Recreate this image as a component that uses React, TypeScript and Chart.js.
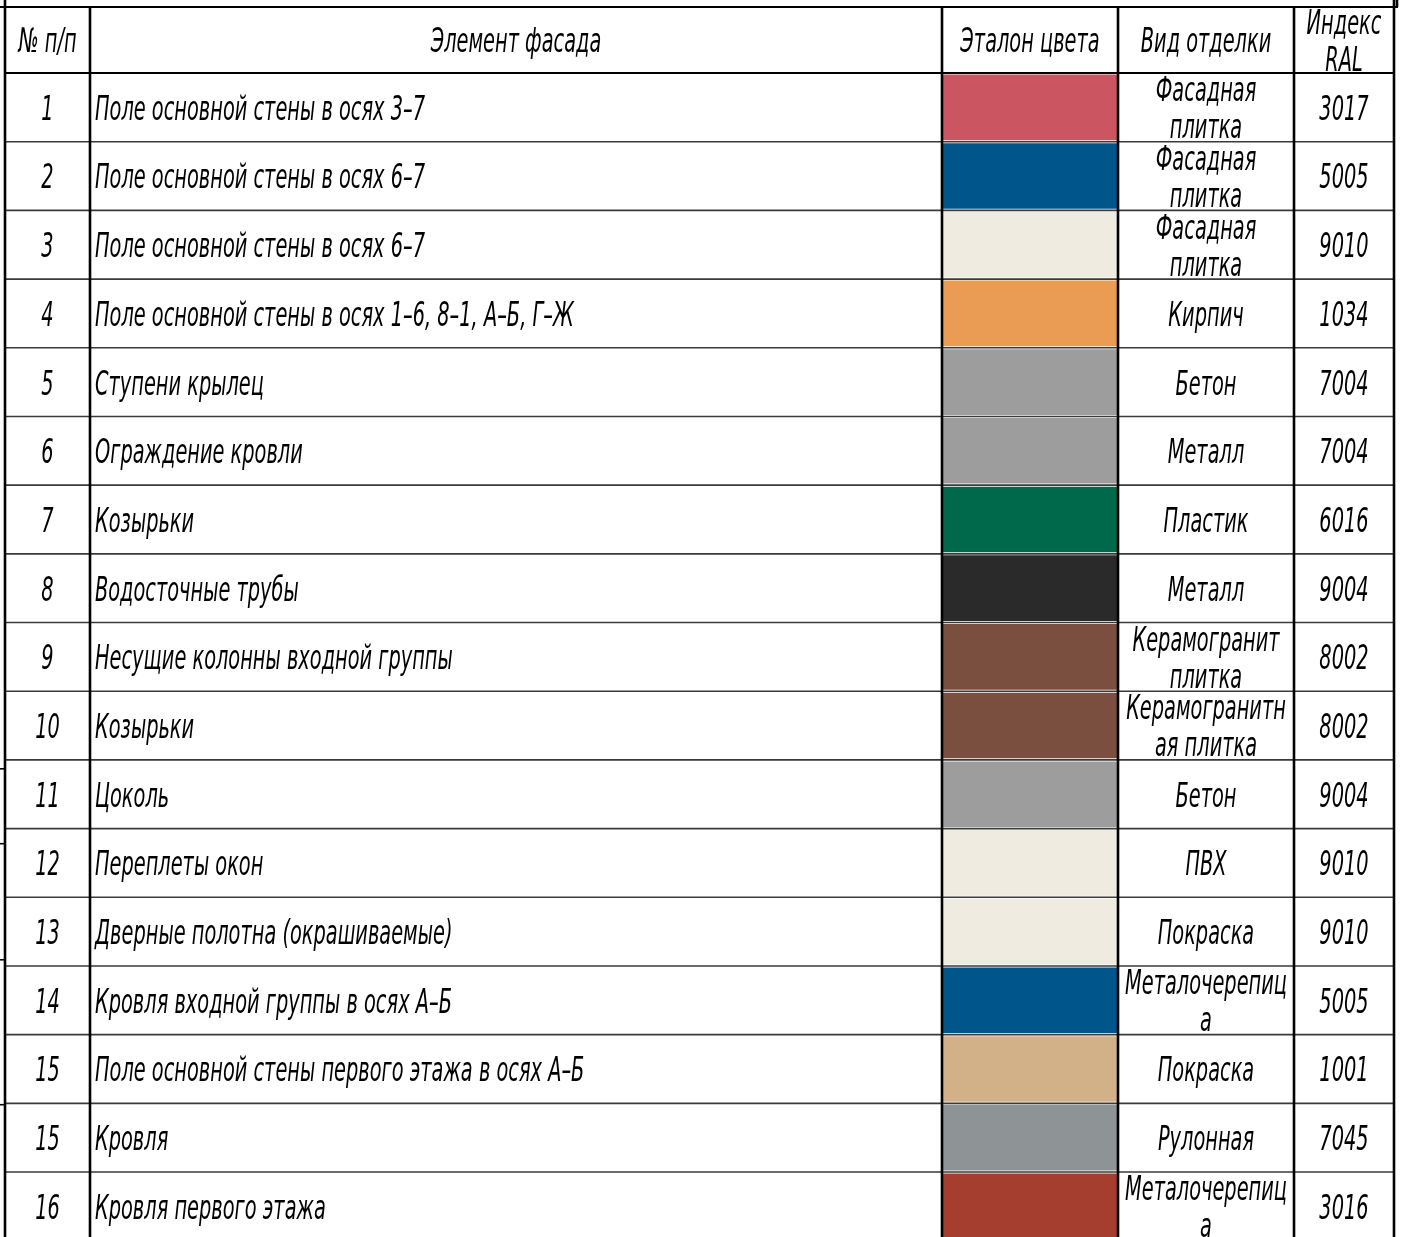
import React, { useEffect, useRef } from "react";
import { Chart, registerables } from "chart.js";

Chart.register(...registerables);

// ---- data ----
const headers = ["№ п/п", "Элемент фасада", "Эталон цвета", "Вид отделки", "Индекс\nRAL"];
const rowNumbers = ["1", "2", "3", "4", "5", "6", "7", "8", "9", "10", "11", "12", "13", "14", "15", "15", "16"];
const elements = [
  "Поле основной стены в осях 3–7",
  "Поле основной стены в осях 6–7",
  "Поле основной стены в осях 6–7",
  "Поле основной стены в осях 1–6, 8–1, А–Б, Г–Ж",
  "Ступени крылец",
  "Ограждение кровли",
  "Козырьки",
  "Водосточные трубы",
  "Несущие колонны входной группы",
  "Козырьки",
  "Цоколь",
  "Переплеты окон",
  "Дверные полотна (окрашиваемые)",
  "Кровля входной группы в осях А–Б",
  "Поле основной стены первого этажа в осях А–Б",
  "Кровля",
  "Кровля первого этажа",
];
const swatchColors = [
  "#CB5560", "#00568A", "#EFEBE1", "#EA9C55", "#9D9D9D", "#9D9D9D", "#00694B", "#2A2A2A",
  "#7A4F3F", "#7A4F3F", "#9D9D9D", "#EFEBE1", "#EFEBE1", "#00568A", "#D2B088", "#8E9396", "#A63E30",
];
const finishes = [
  "Фасадная\nплитка", "Фасадная\nплитка", "Фасадная\nплитка", "Кирпич", "Бетон", "Металл", "Пластик", "Металл",
  "Керамогранит\nплитка", "Керамогранитн\nая плитка", "Бетон", "ПВХ", "Покраска", "Металочерепиц\nа", "Покраска",
  "Рулонная", "Металочерепиц\nа",
];
const ralCodes = ["3017", "5005", "9010", "1034", "7004", "7004", "6016", "9004", "8002", "8002", "9004", "9010", "9010", "5005", "1001", "7045", "3016"];

// ---- layout (scale units) ----
const W = 1401;
const H = 1237;
const COL_EDGES = [5, 90, 942, 1118, 1294, 1394];
const Y_MIN = -1.063;
const Y_MAX = 16.946;
const HEADER_TOP = -0.961;
const FRAME_TICKS = [10.13, 11.22, 12.91, 15.02];
const FONT_PX = 34;
const LINE_GAP = 37;

function drawText(ctx: CanvasRenderingContext2D, text: string, x: number, cy: number, align: CanvasTextAlign, sx: number) {
  const lines = text.split("\n");
  lines.forEach((ln, k) => {
    const y = cy + (k - (lines.length - 1) / 2) * LINE_GAP + FONT_PX * 0.365;
    ctx.save();
    ctx.translate(x, y);
    ctx.scale(sx, 1);
    ctx.textAlign = align;
    ctx.textBaseline = "alphabetic";
    ctx.fillText(ln, 0, 0);
    ctx.restore();
  });
}

const tablePlugin = {
  id: "tablePlugin",
  beforeDraw(chart: any) {
    const ctx = chart.ctx as CanvasRenderingContext2D;
    ctx.save();
    ctx.fillStyle = "#ffffff";
    ctx.fillRect(0, 0, chart.width, chart.height);
    ctx.restore();
  },
  afterDatasetsDraw(chart: any) {
    const ctx = chart.ctx as CanvasRenderingContext2D;
    const xs = chart.scales.x;
    const ys = chart.scales.y;
    const px = (v: number) => xs.getPixelForValue(v);
    const py = (v: number) => ys.getPixelForValue(v);
    ctx.save();
    ctx.font = `italic ${FONT_PX}px "DejaVu Sans"`;
    const sx = 330 / ctx.measureText(elements[0]).width;

    // horizontal row lines
    ctx.strokeStyle = "#3a3a3a";
    ctx.lineWidth = 1.6;
    for (let i = 1; i <= elements.length; i++) {
      ctx.beginPath();
      ctx.moveTo(px(COL_EDGES[0]), py(i));
      ctx.lineTo(px(COL_EDGES[5]), py(i));
      ctx.stroke();
    }
    ctx.strokeStyle = "#000";
    ctx.lineWidth = 2.2;
    ctx.beginPath();
    ctx.moveTo(px(COL_EDGES[0]), py(0));
    ctx.lineTo(px(COL_EDGES[5]), py(0));
    ctx.stroke();
    ctx.beginPath();
    ctx.moveTo(px(0), py(HEADER_TOP));
    ctx.lineTo(px(1398), py(HEADER_TOP));
    ctx.stroke();

    // verticals
    ctx.lineWidth = 2.6;
    COL_EDGES.forEach((c, i) => {
      ctx.beginPath();
      ctx.moveTo(px(c), py(i === 0 || i === 5 ? Y_MIN : HEADER_TOP));
      ctx.lineTo(px(c), py(Y_MAX));
      ctx.stroke();
    });
    ctx.beginPath();
    ctx.moveTo(px(1397), py(Y_MIN));
    ctx.lineTo(px(1397), py(HEADER_TOP));
    ctx.stroke();

    // frame ticks at left edge
    ctx.lineWidth = 1.6;
    FRAME_TICKS.forEach((t) => {
      ctx.beginPath();
      ctx.moveTo(px(0), py(t));
      ctx.lineTo(px(COL_EDGES[0]), py(t));
      ctx.stroke();
    });

    // text
    ctx.fillStyle = "#000";
    const centers = [0, 1, 2, 3, 4].map((i) => (px(COL_EDGES[i]) + px(COL_EDGES[i + 1])) / 2);
    const hy = (py(HEADER_TOP) + py(0)) / 2;
    headers.forEach((h, i) => drawText(ctx, h, centers[i], hy, "center", sx));

    elements.forEach((el, i) => {
      const cy = py(i + 0.5);
      drawText(ctx, rowNumbers[i], centers[0], cy, "center", sx);
      drawText(ctx, el, px(COL_EDGES[1]) + 5, cy, "left", sx);
      drawText(ctx, finishes[i], centers[3], cy, "center", sx);
      drawText(ctx, ralCodes[i], centers[4], cy, "center", sx);
    });
    ctx.restore();
  },
};

export default function App() {
  const ref = useRef<HTMLCanvasElement>(null);
  useEffect(() => {
    if (!ref.current) return;
    const chart = new Chart(ref.current, {
      type: "bar",
      data: {
        datasets: [
          {
            label: "Эталон цвета",
            data: elements.map((_, i) => ({ y: i + 0.5, x: [COL_EDGES[2], COL_EDGES[3]] })) as any,
            backgroundColor: swatchColors,
            borderWidth: 0,
            barPercentage: 1,
            categoryPercentage: 1,
          },
        ],
      },
      options: {
        indexAxis: "y",
        responsive: false,
        animation: false,
        devicePixelRatio: 1,
        layout: { padding: 0 },
        plugins: { legend: { display: false }, tooltip: { enabled: false } },
        scales: {
          x: { type: "linear", min: 0, max: W, display: false, offset: false },
          y: { type: "linear", min: Y_MIN, max: Y_MAX, reverse: true, display: false, offset: false, grid: { offset: false } },
        },
      },
      plugins: [tablePlugin],
    });
    return () => chart.destroy();
  }, []);
  return (
    <canvas
      ref={ref}
      width={W}
      height={H}
      style={{ position: "absolute", left: 0, top: 0, width: W, height: H }}
    />
  );
}
